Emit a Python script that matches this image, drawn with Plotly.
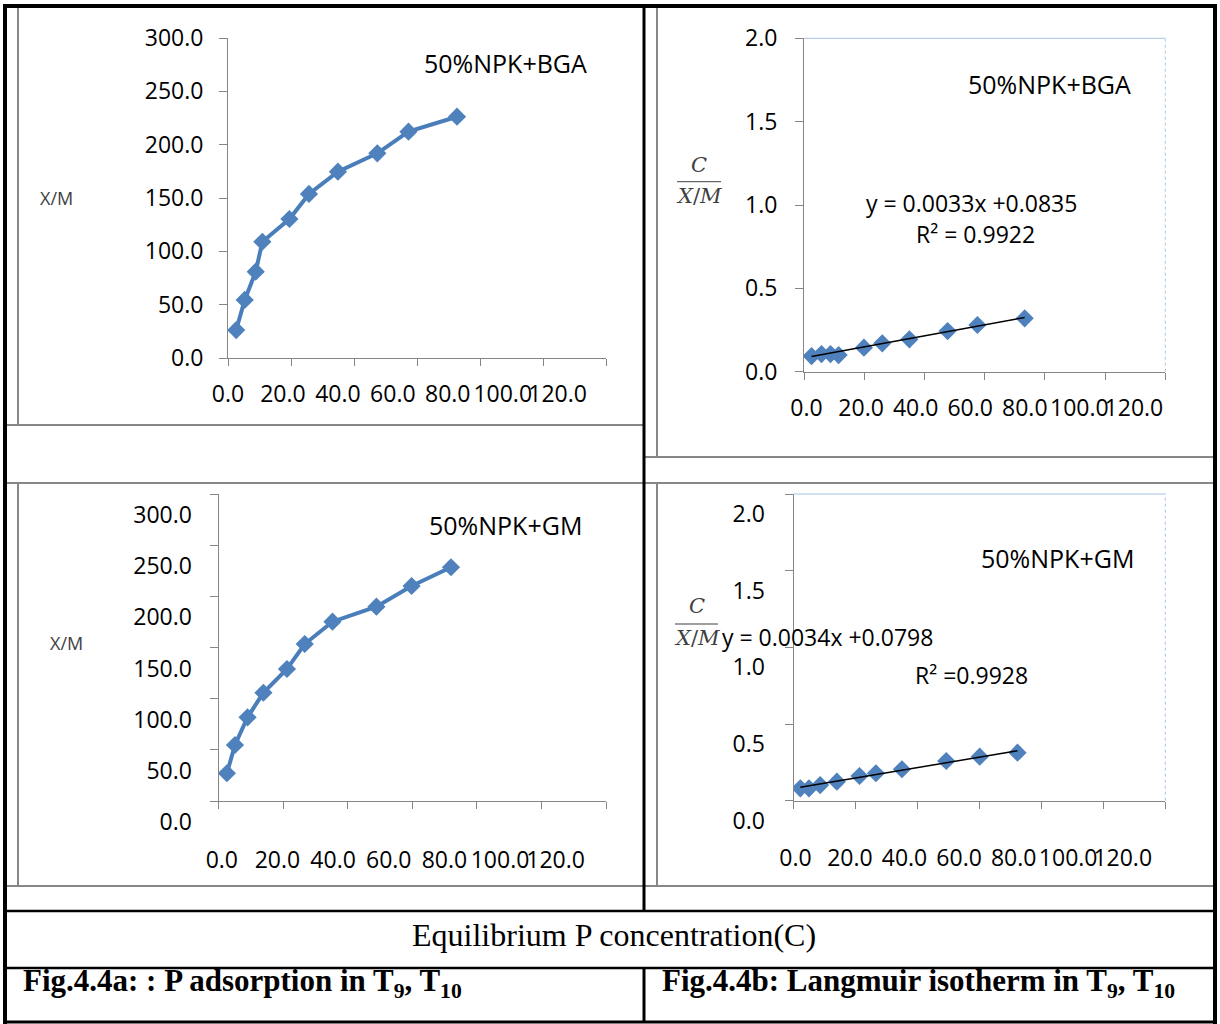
import plotly.graph_objects as go

W, H = 1220, 1024

# ---------------- data ----------------
bga_c = [2.6, 5.3, 8.8, 10.9, 19.5, 25.7, 34.9, 47.4, 57.3, 72.7]
bga_xm = [26.2, 54.4, 80.9, 109.0, 130.3, 153.8, 174.7, 191.9, 212.2, 226.2]
bga_lang_c = [2.5, 5.8, 8.8, 11.5, 19.9, 26.0, 35.0, 47.7, 57.6, 73.3]
bga_lang_ratio = [0.094, 0.106, 0.106, 0.100, 0.144, 0.170, 0.194, 0.244, 0.280, 0.320]
gm_c = [2.6, 5.1, 9.0, 13.9, 21.2, 26.7, 35.3, 48.9, 59.8, 72.0]
gm_xm = [27.1, 54.7, 81.8, 105.8, 129.0, 153.4, 175.2, 189.9, 210.1, 228.4]
gm_lang_c = [2.2, 5.0, 8.6, 14.0, 21.3, 26.6, 35.0, 49.3, 60.1, 72.3]
gm_lang_ratio = [0.081, 0.081, 0.102, 0.124, 0.161, 0.179, 0.205, 0.259, 0.287, 0.313]
bga_slope, bga_intercept, bga_r2 = 0.0033, 0.0835, 0.9922
gm_slope, gm_intercept, gm_r2 = 0.0034, 0.0798, 0.9928
x_ticks = [0, 20, 40, 60, 80, 100, 120]
x_tick_labels = ["0.0", "20.0", "40.0", "60.0", "80.0", "100.0", "120.0"]

BLUE_LINE = "#4A7EBB"
BLUE_MARK = "#4F81BD"
AXIS = "#868686"
GRAY = "#878787"
FONT = "Open Sans, sans-serif"


def fx(x):
    return x / W


def fy(y):
    return 1 - y / H


fig = go.Figure()

# adsorption curves
fig.add_trace(go.Scatter(x=bga_c, y=bga_xm, mode="lines+markers", xaxis="x", yaxis="y",
                         line=dict(color=BLUE_LINE, width=4),
                         marker=dict(symbol="diamond", size=14, color=BLUE_MARK),
                         showlegend=False))
fig.add_trace(go.Scatter(x=gm_c, y=gm_xm, mode="lines+markers", xaxis="x3", yaxis="y3",
                         line=dict(color=BLUE_LINE, width=4),
                         marker=dict(symbol="diamond", size=14, color=BLUE_MARK),
                         showlegend=False))

# Langmuir points + trend lines
for xs, ys, slope, icpt, xa, ya in [
    (bga_lang_c, bga_lang_ratio, bga_slope, bga_intercept, "x2", "y2"),
    (gm_lang_c, gm_lang_ratio, gm_slope, gm_intercept, "x4", "y4"),
]:
    fig.add_trace(go.Scatter(x=xs, y=ys, mode="markers", xaxis=xa, yaxis=ya,
                             marker=dict(symbol="diamond", size=14, color=BLUE_MARK),
                             showlegend=False))
    tx = [min(xs), max(xs)]
    fig.add_trace(go.Scatter(x=tx, y=[slope * v + icpt for v in tx], mode="lines",
                             xaxis=xa, yaxis=ya, line=dict(color="black", width=1.5),
                             showlegend=False))

# empty traces so the label-only overlay axes are drawn
for xa, ya in [("x5", "y"), ("x6", "y2"), ("x7", "y3"), ("x8", "y4")]:
    fig.add_trace(go.Scatter(x=[], y=[], xaxis=xa, yaxis=ya, showlegend=False))

tickfont = dict(family=FONT, size=23, color="black")
base = dict(showline=True, linecolor=AXIS, linewidth=1, ticks="outside", tickcolor=AXIS,
            tickwidth=1, showgrid=False, zeroline=False, fixedrange=True, automargin=False)


def xprim(dom, anchor):
    return dict(base, domain=[fx(dom[0]), fx(dom[1])], anchor=anchor, range=[0, 120],
                tickvals=x_ticks, ticklen=7, showticklabels=False)


def xlab(over, anchor, rng, standoff):
    return dict(overlaying=over, anchor=anchor, side="bottom", range=rng, tickvals=x_ticks,
                ticktext=x_tick_labels, ticks="", showline=False, showgrid=False,
                zeroline=False, tickfont=tickfont, ticklabelstandoff=standoff,
                tickangle=0, automargin=False, fixedrange=True)


def yax(dom, anchor, rng, dtick, shift=0, standoff=11):
    return dict(base, domain=[fy(dom[1]), fy(dom[0])], anchor=anchor, range=rng, dtick=dtick,
                tick0=0, tickformat=".1f", ticklen=8, tickfont=tickfont,
                ticklabelstandoff=standoff, ticklabelshift=shift)


fig.update_layout(
    template="none",
    width=W, height=H, autosize=False,
    margin=dict(l=0, r=0, t=0, b=0, pad=0),
    paper_bgcolor="white", plot_bgcolor="rgba(0,0,0,0)",
    font=dict(family=FONT, color="black"),
    showlegend=False,
    xaxis=xprim([228, 606], "y"),
    yaxis=yax([38, 358], "x", [0, 300], 50),
    xaxis2=xprim([804, 1165.3], "y2"),
    yaxis2=yax([38.3, 371.7], "x2", [0, 2], 0.5, standoff=13),
    xaxis3=xprim([218.5, 606], "y3"),
    yaxis3=yax([494, 801], "x3", [0, 300], 50, shift=21, standoff=13),
    xaxis4=xprim([793.5, 1165.3], "y4"),
    yaxis4=yax([494, 800.7], "x4", [0, 2], 0.5, shift=20, standoff=15),
    xaxis5=xlab("x", "y", [0, 137.6], 20),
    xaxis6=xlab("x2", "y2", [-0.92, 131.5], 20),
    xaxis7=xlab("x3", "y3", [-1.2, 138.1], 43),
    xaxis8=xlab("x4", "y4", [-0.7, 135.6], 41),
)

shapes = []


def line(x0, y0, x1, y1, color, width, dash=None):
    d = dict(type="line", xref="paper", yref="paper", x0=fx(x0), y0=fy(y0), x1=fx(x1), y1=fy(y1),
             line=dict(color=color, width=width), layer="above")
    if dash:
        d["line"]["dash"] = dash
    shapes.append(d)


# gray chart-area borders
line(18, 8, 18, 425, GRAY, 2)
line(7, 425, 643, 425, GRAY, 2)
line(657, 8, 657, 457, GRAY, 2)
line(645, 457, 1214, 457, GRAY, 2)
line(7, 483, 1214, 483, GRAY, 2)
line(18, 484, 18, 886, GRAY, 2)
line(657, 484, 657, 886, GRAY, 2)
line(7, 886, 1214, 886, GRAY, 2)

# black table lines
line(3, 6, 1217, 6, "black", 4)
line(5, 4, 5, 1024, "black", 4)
line(1215, 4, 1215, 1024, "black", 4)
line(3, 1022, 1217, 1022, "black", 3)
line(644, 6, 644, 911, "black", 3)
line(644, 968, 644, 1022, "black", 3)
line(5, 911, 1215, 911, "black", 2.5)
line(5, 968, 1215, 968, "black", 2.5)

# light-blue plot-area borders on Langmuir charts
for xd, yd in [("x2 domain", "y2 domain"), ("x4 domain", "y4 domain")]:
    shapes.append(dict(type="line", xref=xd, yref=yd, x0=0, y0=1, x1=1, y1=1,
                       line=dict(color="#A7C2E6", width=1)))
    shapes.append(dict(type="line", xref=xd, yref=yd, x0=1, y0=0, x1=1, y1=1,
                       line=dict(color="#A7C2E6", width=1, dash="dot")))

# fraction bars for C / (X/M)
line(677, 181.7, 721, 181.7, "#404040", 1)
line(675, 624, 718, 624, "#404040", 1)

fig.update_layout(shapes=shapes)

annos = []


def text(x, y, s, size, family=FONT, color="black", xanchor="center"):
    annos.append(dict(x=fx(x), y=fy(y), xref="paper", yref="paper", text=s, showarrow=False,
                      xanchor=xanchor, yanchor="middle",
                      font=dict(family=family, size=size, color=color)))


SERIF = "Liberation Serif, Times New Roman, serif"
MATH = "DejaVu Serif, serif"

text(505.5, 63, "50%NPK+BGA", 25)
text(56, 198, "X/M", 18, color="#404040")
text(1049.7, 84, "50%NPK+BGA", 25)
text(971, 203, f"y = {bga_slope}x +{bga_intercept}", 23)
text(975, 234, f"R² = {bga_r2}", 23)
text(699, 165, "<i>C</i>", 21, family=MATH, color="#404040")
text(699, 196, "<i>X</i>/<i>M</i>", 21, family=MATH, color="#404040")

text(505, 525, "50%NPK+GM", 25)
text(66, 643, "X/M", 18, color="#404040")
text(1057.6, 558, "50%NPK+GM", 25)
text(697, 606, "<i>C</i>", 21, family=MATH, color="#404040")
text(697, 638, "<i>X</i>/<i>M</i>", 21, family=MATH, color="#404040")
text(720, 637, f"y = {gm_slope}x +{gm_intercept}", 23, xanchor="left")
text(971, 675, f"R² ={gm_r2}", 23)

text(614, 935, "Equilibrium P concentration(C)", 32, family=SERIF)
text(21, 983, "<b>Fig.4.4a: : P adsorption in T<sub>9</sub>, T<sub>10</sub></b>", 31,
     family=SERIF, xanchor="left")
text(660, 983, "<b>Fig.4.4b: Langmuir isotherm in T<sub>9</sub>, T<sub>10</sub></b>", 31,
     family=SERIF, xanchor="left")

fig.update_layout(annotations=annos)

fig.write_html("out.html")
